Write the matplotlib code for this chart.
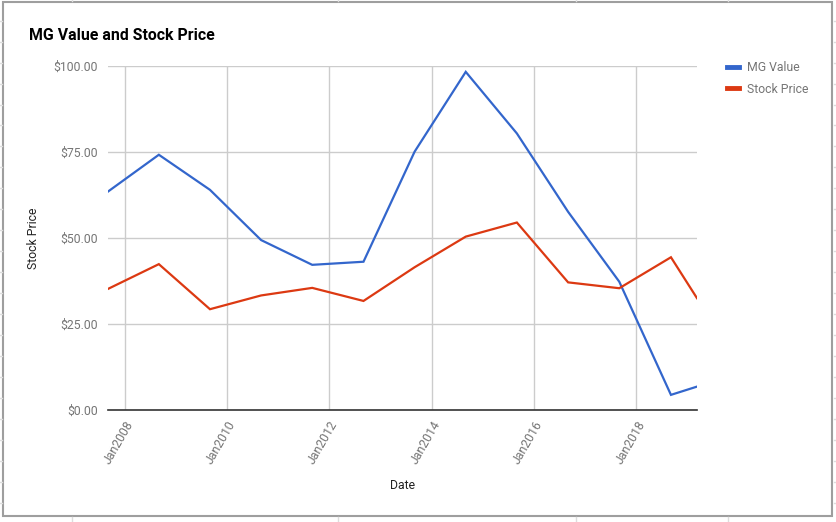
import numpy as np
import pandas as pd
import matplotlib
matplotlib.use("Agg")
from matplotlib import pyplot as plt
from matplotlib.lines import Line2D
from matplotlib.patches import Rectangle

plt.rcParams['font.family'] = ['Roboto', 'DejaVu Sans']

dates = pd.to_datetime(["2007-09-04", "2008-09-01", "2009-09-01", "2010-09-01",
                        "2011-09-01", "2012-09-01", "2013-09-01", "2014-09-01",
                        "2015-09-01", "2016-09-01", "2017-09-01", "2018-09-05",
                        "2019-03-10"])
mg_value    = [63.5, 74.2, 64.0, 49.4, 42.2, 43.1, 75.1, 98.3, 80.4, 57.6, 37.3, 4.4, 6.8]
stock_price = [35.2, 42.4, 29.3, 33.3, 35.5, 31.7, 41.5, 50.4, 54.5, 37.1, 35.4, 44.4, 32.5]

tick_years  = [2008, 2010, 2012, 2014, 2016, 2018]
tick_labels = ["Jan" + str(y) for y in tick_years]
y_ticks     = [0, 25, 50, 75, 100]

W, H = 836, 522
fig = plt.figure(figsize=(W / 100, H / 100), dpi=100)
ax = fig.add_axes([108 / W, 1 - 410 / H, (697 - 108) / W, (410 - 66) / H])

blue = '#3366cc'
red = '#dc3912'
ax.plot(dates, mg_value, color=blue, lw=1.6, label='MG Value', solid_joinstyle='miter')
ax.plot(dates, stock_price, color=red, lw=1.6, label='Stock Price', solid_joinstyle='miter')

ax.set_xlim(dates[0], dates[-1])
ax.set_ylim(0, 100)
ax.set_yticks(y_ticks)
ax.set_yticklabels(["${:.2f}".format(v) for v in y_ticks])
ax.set_xticks(pd.to_datetime([str(y) + "-01-01" for y in tick_years]))
ax.set_xticklabels(tick_labels, rotation=60, ha='right', rotation_mode='anchor')

ax.grid(True, color='#cccccc', lw=1)
ax.set_axisbelow(True)
for s in ['top', 'right', 'left']:
    ax.spines[s].set_visible(False)
ax.spines['bottom'].set_color('#333333')
ax.spines['bottom'].set_linewidth(1.2)
ax.spines['bottom'].set_zorder(3)
ax.tick_params(length=0, labelsize=8.8, labelcolor='#757575')
ax.tick_params(axis='y', pad=7)
ax.tick_params(axis='x', pad=6)

ax.set_ylabel('Stock Price', fontsize=8.8, color='#222222', labelpad=10)
ax.set_xlabel('Date', fontsize=8.8, color='#222222', labelpad=9)

fig.text(29 / W, 1 - 35 / H, 'MG Value and Stock Price', fontsize=11.4,
         fontweight='bold', color='#000000', va='center', ha='left')

handles = [Line2D([], [], color=blue, lw=3.5), Line2D([], [], color=red, lw=3.5)]
fig.legend(handles, ['MG Value', 'Stock Price'], loc='upper left',
           bbox_to_anchor=(716 / W, 1 - 50 / H), frameon=False, fontsize=8.8,
           labelcolor='#757575', handlelength=1.0, handletextpad=0.6,
           labelspacing=0.7)

# chart border and the spreadsheet cell lines around it
fig.patches.append(Rectangle((2.5 / W, 1 - 516 / H), (832.3 - 2.5) / W, (516 - 1.5) / H,
                             transform=fig.transFigure, fill=False,
                             edgecolor='#9e9e9e', lw=1.5))
for x in [72, 338, 576, 728]:
    fig.add_artist(Line2D([x / W, x / W], [0, 1 - 517 / H], color='#dddddd', lw=1,
                          transform=fig.transFigure))
    fig.add_artist(Line2D([x / W, x / W], [1 - 1 / H, 1], color='#dddddd', lw=1,
                          transform=fig.transFigure))
for y in np.arange(20.7, 516, 20.95):
    fig.add_artist(Line2D([0, 2 / W], [1 - y / H, 1 - y / H], color='#dddddd', lw=1,
                          transform=fig.transFigure))
    fig.add_artist(Line2D([833.5 / W, 1], [1 - y / H, 1 - y / H], color='#dddddd', lw=1,
                          transform=fig.transFigure))

fig.savefig('out.png', dpi=100)
